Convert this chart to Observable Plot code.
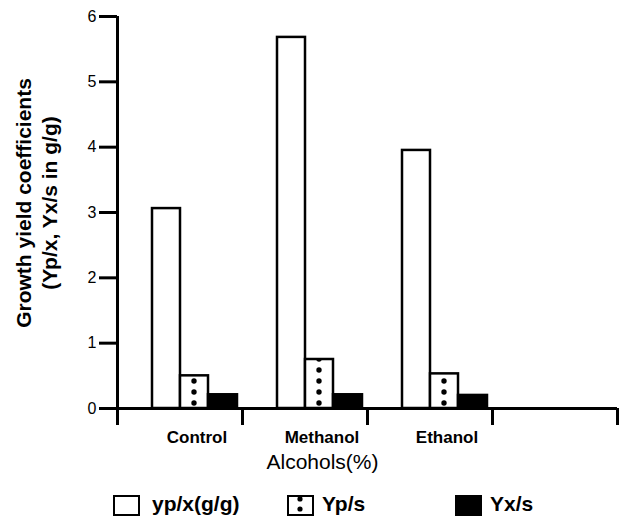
<!DOCTYPE html>
<html><head><meta charset="utf-8">
<script src="https://cdn.jsdelivr.net/npm/d3@7"></script>
<script src="https://cdn.jsdelivr.net/npm/@observablehq/plot@0.6"></script>
<style>
body{margin:0;background:#fff;font-family:"Liberation Sans",Arial,Helvetica,sans-serif;}
#wrap{position:relative;width:622px;}
#legend{position:relative;width:622px;height:34px;}
.sw{position:absolute;top:11px;width:27px;height:21px;box-sizing:border-box;border:2.5px solid #000;background:#fff;}
.lt{position:absolute;top:9px;font-size:21px;font-weight:bold;color:#000;line-height:22px;}
</style></head><body><div id="wrap"><div id="chart"></div><div id="legend"></div></div><script>
const categories = ["Control", "Methanol", "Ethanol", ""];
const series = ["yp/x(g/g)", "Yp/s", "Yx/s"];
const ypx = [3.06, 5.68, 3.95];
const yps = [0.50, 0.75, 0.53];
const yxs = [0.21, 0.21, 0.20];
const yTicks = [0, 1, 2, 3, 4, 5, 6];
const yLabel = "Growth yield coefficients\n(Yp/x, Yx/s in g/g)";
const xLabel = "Alcohols(%)";

const seriesValues = [ypx, yps, yxs];
const rows = [];
series.forEach((s, j) => seriesValues[j].forEach((v, i) => rows.push({category: categories[i], series: s, value: v})));
const of = s => rows.filter(d => d.series === s);

const BW = 125; // band width for styling offsets
const font = '"Liberation Sans", Arial, sans-serif';

const chart = Plot.plot({
  width: 622,
  height: 484,
  marginLeft: 117,
  marginRight: 5,
  marginTop: 16,
  marginBottom: 59,
  style: {fontFamily: font, background: "white", color: "black", overflow: "visible"},
  x: {domain: categories, padding: 0},
  y: {domain: [0, 6], insetBottom: 17},
  marks: [
    Plot.barY(of(series[0]), {x: "category", y: "value", fill: "white", stroke: "black", strokeWidth: 2.5, insetLeft: 35, insetRight: 62}),
    Plot.barY(of(series[1]), {x: "category", y: "value", fill: "url(#dotpat)", stroke: "black", strokeWidth: 2.5, insetLeft: 63, insetRight: 34}),
    Plot.barY(of(series[2]), {x: "category", y: "value", fill: "black", stroke: "black", strokeWidth: 2.5, insetLeft: 91, insetRight: 5}),
    Plot.ruleY([0], {strokeWidth: 3}),
    Plot.ruleX([categories[0]], {dx: -BW / 2, strokeWidth: 3}),
    Plot.axisY({ticks: yTicks, tickSize: 18, tickPadding: 3, strokeWidth: 3, fontSize: 16, tickFormat: d => String(d), label: null}),
    Plot.axisX({tickSize: 17, dy: -17, dx: -BW / 2, strokeWidth: 3, tickFormat: () => "", label: null}),
    Plot.axisX({ticks: [categories[3]], tickSize: 17, dy: -17, dx: BW / 2, strokeWidth: 3, tickFormat: () => "", label: null}),
    Plot.axisX({tickSize: 0, tickPadding: 5, dx: 17, fontSize: 17, fontWeight: "bold", label: null}),
    Plot.text([xLabel], {frameAnchor: "bottom", lineAnchor: "middle", dy: 37, dx: -45, fontSize: 21}),
    Plot.text([yLabel], {frameAnchor: "left", textAnchor: "middle", rotate: -90, dx: -82, dy: -18, fontSize: 21, fontWeight: "bold", lineHeight: 1.25, lineAnchor: "middle"})
  ]
});

// dot pattern for the Yp/s bars, aligned to the library's scales
const xs = chart.scale("x"), ys = chart.scale("y");
const ns = "http://www.w3.org/2000/svg";
const defs = document.createElementNS(ns, "defs");
const pat = document.createElementNS(ns, "pattern");
pat.setAttribute("id", "dotpat");
pat.setAttribute("patternUnits", "userSpaceOnUse");
pat.setAttribute("x", xs.apply(categories[0]));
pat.setAttribute("y", ys.apply(0));
pat.setAttribute("width", xs.bandwidth);
pat.setAttribute("height", 11);
const bgr = document.createElementNS(ns, "rect");
bgr.setAttribute("width", xs.bandwidth); bgr.setAttribute("height", 11); bgr.setAttribute("fill", "white");
pat.appendChild(bgr);
const c = document.createElementNS(ns, "circle");
c.setAttribute("cx", 63 + (BW - 63 - 34) / 2); c.setAttribute("cy", 6); c.setAttribute("r", 2.7); c.setAttribute("fill", "black");
pat.appendChild(c);
defs.appendChild(pat);
chart.insertBefore(defs, chart.firstChild);
document.getElementById("chart").appendChild(chart);

// legend
const legend = document.getElementById("legend");
const swLeft = [113, 287, 455];
const txLeft = [152, 322, 490];
series.forEach((s, i) => {
  const sw = document.createElement("div");
  sw.className = "sw";
  sw.style.left = swLeft[i] + "px";
  if (i === 2) sw.style.background = "#000";
  if (i === 1) {
    sw.innerHTML = '<svg width="22" height="16" style="display:block"><circle cx="11" cy="2" r="2.6" fill="#000"/><circle cx="11" cy="12" r="2.6" fill="#000"/></svg>';
  }
  legend.appendChild(sw);
  const t = document.createElement("div");
  t.className = "lt";
  t.style.left = txLeft[i] + "px";
  t.textContent = s;
  legend.appendChild(t);
});
</script></body></html>
